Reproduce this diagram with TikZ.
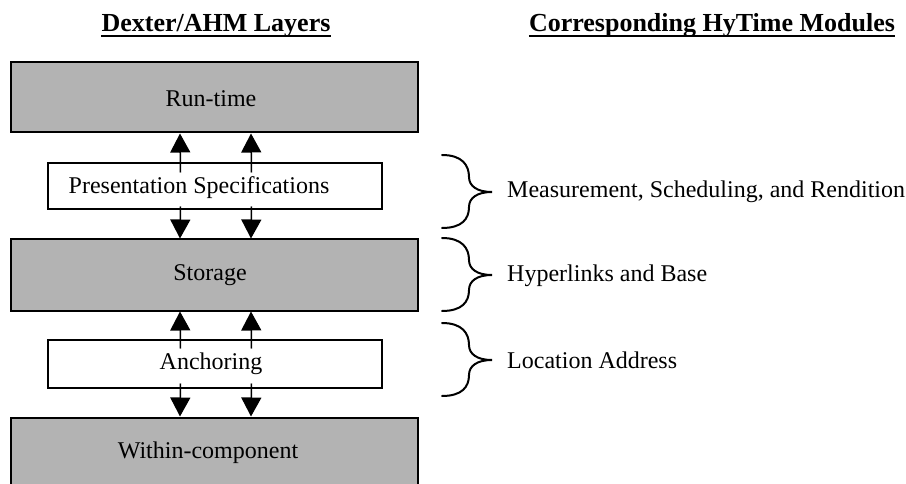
\documentclass[tikz,border=0pt]{standalone}
\usepackage{fontspec}
\setmainfont{Liberation Serif}
\usetikzlibrary{arrows.meta}
\definecolor{layergray}{RGB}{179,179,179}
\tikzset{
  layer/.style={draw, line width=2pt, fill=layergray, minimum width=407pt, minimum height=70pt, inner sep=0pt},
  spec/.style={draw, line width=2pt, fill=white, minimum width=334pt, inner sep=0pt},
  txt/.style={font=\fontsize{24}{28}\selectfont, inner sep=0pt},
  head/.style={font=\fontsize{26}{30}\selectfont\bfseries, inner sep=0pt, anchor=base},
  flow/.style={line width=1.5pt, -{Triangle[width=20pt,length=19pt]}},
  curly/.style={line width=2pt, line cap=round}
}
\newcommand{\curlybrace}[2]{% left x, top y (y grows downward)
  \draw[curly] (#1,#2) .. controls (#1+20,#2) and (#1+27,#2+10) .. (#1+27,#2+22)
    .. controls (#1+27,#2+31) and (#1+35,#2+37) .. (#1+50,#2+37)
    .. controls (#1+35,#2+37) and (#1+27,#2+43) .. (#1+27,#2+52)
    .. controls (#1+27,#2+64) and (#1+20,#2+73) .. (#1,#2+73);}
\begin{document}
\begin{tikzpicture}[x=1pt,y=-1pt]
\useasboundingbox (0,0) rectangle (906,484);
\clip (0,0) rectangle (906,484);

% column headings
\node[head] (h1) at (216,32) {Dexter/AHM Layers};
\node[head] (h2) at (712,32) {Corresponding HyTime Modules};
\draw[line width=2pt] ([yshift=-4.5pt]h1.base west) -- ([yshift=-4.5pt]h1.base east);
\draw[line width=2pt] ([yshift=-4.5pt]h2.base west) -- ([yshift=-4.5pt]h2.base east);

% layers
\node[layer] (rt) at (214.5,97.5) {};
\node[spec, minimum height=46pt] (ps) at (215,186.5) {};
\node[layer, minimum height=71pt] (st) at (214.5,275) {};
\node[spec, minimum height=48pt] (an) at (215,363.5) {};
\node[layer] (wc) at (214.5,452.5) {};

\node[txt] (rtl) at (211,99) {Run-time};
\node[txt] (psl) at (199,188) {Presentation Specifications};
\node[txt] (stl) at (210,275) {Storage};
\node[txt] (anl) at (211,364) {Anchoring};
\node[txt] (wcl) at (208,453) {Within-component};

% interfaces between layers
\foreach \dx in {-34.5,36.5}{
  \draw[flow] ([shift={(\dx,10)}]ps.north) -- ([xshift=\dx]rt.south);
  \draw[flow] ([shift={(\dx,-4)}]ps.south) -- ([xshift=\dx]st.north);
  \draw[flow] ([shift={(\dx,10)}]an.north) -- ([xshift=\dx]st.south);
  \draw[flow] ([shift={(\dx,-5)}]an.south) -- ([xshift=\dx]wc.north);
}

% HyTime module braces
\curlybrace{442}{155}
\curlybrace{442}{238}
\curlybrace{442}{323}
\node[txt, anchor=west] (m1) at (507,192) {Measurement, Scheduling, and Rendition};
\node[txt, anchor=west] (m2) at (507,276) {Hyperlinks and Base};
\node[txt, anchor=west] (m3) at (507,360) {Location Address};
\end{tikzpicture}
\end{document}
